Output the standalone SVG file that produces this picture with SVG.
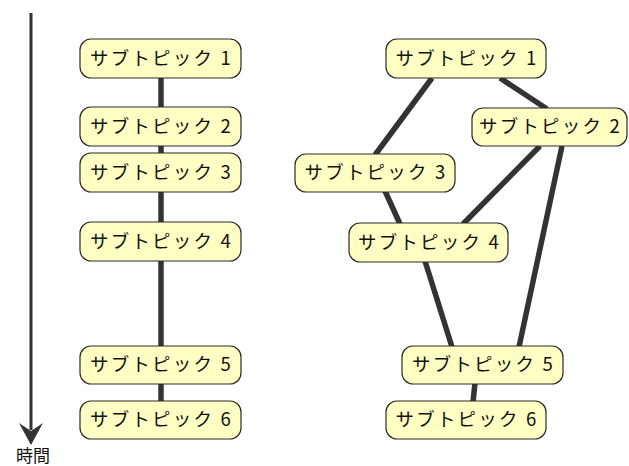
<svg xmlns="http://www.w3.org/2000/svg" width="629" height="466" viewBox="0 0 629 466">
<style>
.box rect{fill:#ffffc4;stroke:#2a2a2a;stroke-width:1.2}
.box text{font-family:"Noto Sans CJK JP","Noto Sans",sans-serif;font-size:18.5px;fill:#111;letter-spacing:2.2px}
.conn line{stroke:#333;stroke-width:5.5}
</style>
<rect width="629" height="466" fill="#fff"/>
<g id="timeline">
<line x1="31" y1="13" x2="31" y2="430" stroke="#333" stroke-width="3"/>
<path d="M19,423 L31,445 L43,423 L31,431 Z" fill="#333"/>
<text x="33" y="462" text-anchor="middle" font-family="Noto Sans CJK JP,sans-serif" font-size="17" fill="#111">時間</text>
</g>
<g class="conn" id="connectors">
<line x1="161" y1="78" x2="161" y2="401"/>
<line x1="432" y1="78" x2="375" y2="155"/>
<line x1="500" y1="78" x2="547" y2="109"/>
<line x1="540" y1="146" x2="463" y2="224"/>
<line x1="562" y1="146" x2="519" y2="347"/>
<line x1="385" y1="191" x2="400" y2="224"/>
<line x1="425" y1="261" x2="452" y2="347"/>
<line x1="475" y1="383" x2="473" y2="402"/>
</g>
<g class="box" id="L1"><rect x="80" y="39" width="161" height="39" rx="11"/><text x="161.5" y="65" text-anchor="middle">サブトピック 1</text></g>
<g class="box" id="L2"><rect x="80" y="107" width="161" height="39" rx="11"/><text x="161.5" y="133" text-anchor="middle">サブトピック 2</text></g>
<g class="box" id="L3"><rect x="80" y="153" width="161" height="39" rx="11"/><text x="161.5" y="179" text-anchor="middle">サブトピック 3</text></g>
<g class="box" id="L4"><rect x="80" y="222" width="161" height="39" rx="11"/><text x="161.5" y="248" text-anchor="middle">サブトピック 4</text></g>
<g class="box" id="L5"><rect x="80" y="346" width="161" height="38" rx="11"/><text x="161.5" y="371" text-anchor="middle">サブトピック 5</text></g>
<g class="box" id="L6"><rect x="80" y="401" width="161" height="38" rx="11"/><text x="161.5" y="426" text-anchor="middle">サブトピック 6</text></g>
<g class="box" id="R1"><rect x="386" y="39" width="160" height="39" rx="11"/><text x="467" y="65" text-anchor="middle">サブトピック 1</text></g>
<g class="box" id="R2"><rect x="472" y="108" width="155" height="38" rx="11"/><text x="550.5" y="133" text-anchor="middle">サブトピック 2</text></g>
<g class="box" id="R3"><rect x="295" y="154" width="160" height="38" rx="11"/><text x="376" y="179" text-anchor="middle">サブトピック 3</text></g>
<g class="box" id="R4"><rect x="349" y="223" width="159" height="39" rx="11"/><text x="429.5" y="249" text-anchor="middle">サブトピック 4</text></g>
<g class="box" id="R5"><rect x="402" y="346" width="161" height="38" rx="11"/><text x="483.5" y="371" text-anchor="middle">サブトピック 5</text></g>
<g class="box" id="R6"><rect x="386" y="401" width="160" height="38" rx="11"/><text x="467" y="426" text-anchor="middle">サブトピック 6</text></g>
</svg>
